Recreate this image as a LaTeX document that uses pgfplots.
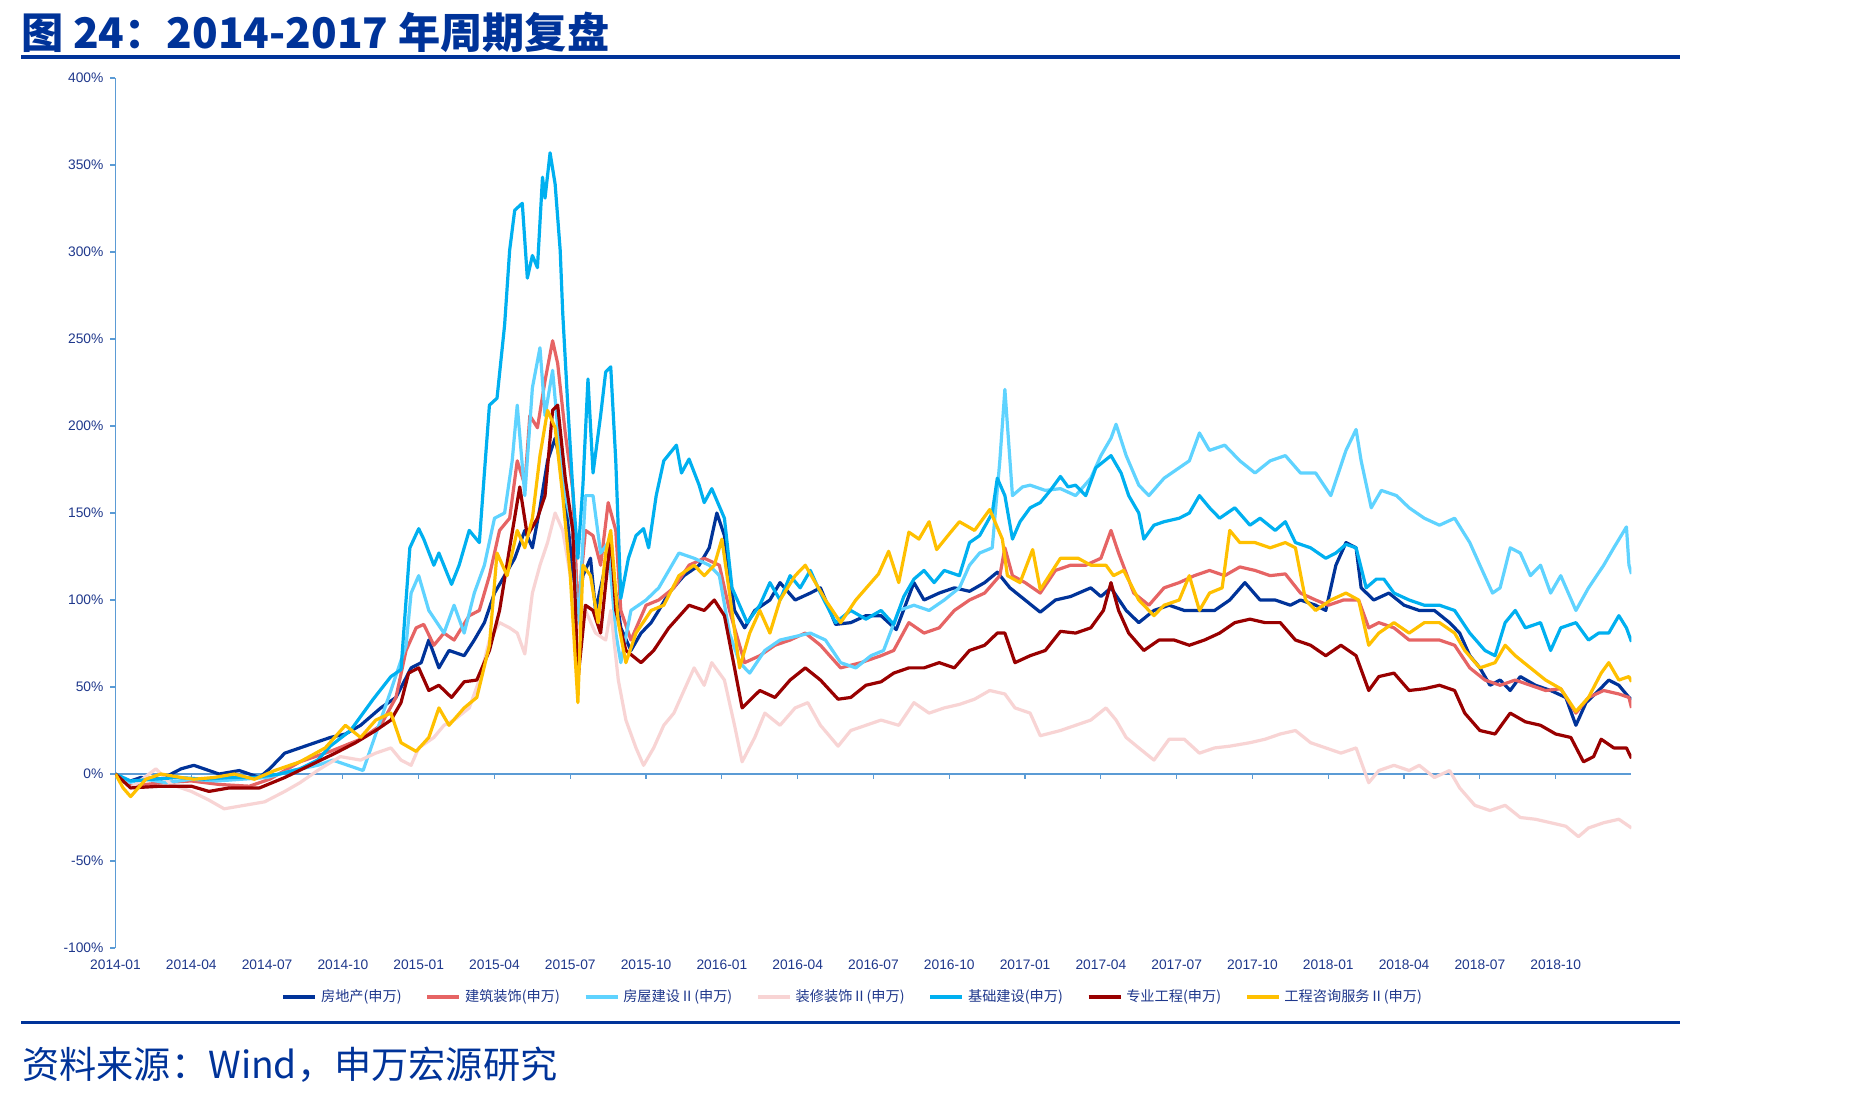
\documentclass[border=0pt]{standalone}
\usepackage{pgfplots}
\pgfplotsset{compat=1.18}
\usepackage{fontspec}
\setmainfont{Liberation Sans}
\newfontfamily\cjk{Noto Sans CJK SC}
\definecolor{titleblue}{RGB}{0,51,153}
\definecolor{tickblue}{RGB}{31,56,140}
\definecolor{axisblue}{RGB}{91,155,213}
\definecolor{cA}{RGB}{0,51,153}
\definecolor{cB}{RGB}{230,100,100}
\definecolor{cC}{RGB}{95,211,255}
\definecolor{cD}{RGB}{248,212,212}
\definecolor{cE}{RGB}{0,176,240}
\definecolor{cF}{RGB}{153,0,0}
\definecolor{cG}{RGB}{255,192,0}
\begin{document}
\begin{tikzpicture}
\path[fill=white] (0pt,0pt) rectangle (924.5pt,-549.5pt);
\node[anchor=base west, inner sep=0pt, text=titleblue, font=\cjk\bfseries\fontsize{21.1}{25}\selectfont] at (10.5pt,-24pt) {图 24：2014-2017 年周期复盘};
\fill[titleblue] (10.5pt,-27.5pt) rectangle (840pt,-29.5pt);
\fill[titleblue] (10.5pt,-510.5pt) rectangle (840pt,-512pt);
\node[anchor=base west, inner sep=0pt, text=titleblue, font=\cjk\fontsize{18.6}{22}\selectfont] at (11pt,-539.3pt) {资料来源：Wind，申万宏源研究};
\begin{axis}[
  scale only axis, width=758pt, height=435pt,
  at={(57.75pt,-474pt)}, anchor=south west,
  xmin=0, xmax=60, ymin=-100, ymax=400,
  axis y line*=left, axis x line*=bottom,
  x axis line style={draw=none},
  y axis line style={draw=axisblue, line width=0.6pt},
  xtick={0,3,...,57},
  xticklabels={2014-01,2014-04,2014-07,2014-10,2015-01,2015-04,2015-07,2015-10,2016-01,2016-04,2016-07,2016-10,2017-01,2017-04,2017-07,2017-10,2018-01,2018-04,2018-07,2018-10},
  xtick style={draw=none},
  ytick={-100,-50,...,400},
  yticklabels={-100\%,-50\%,0\%,50\%,100\%,150\%,200\%,250\%,300\%,350\%,400\%},
  ytick style={draw=axisblue, line width=0.6pt},
  tick align=outside, major tick length=2.5pt,
  ticklabel style={font=\fontsize{6.9}{8}\selectfont, text=tickblue},
  no markers,
  every axis plot/.append style={line width=1.6pt, line join=round},
  legend columns=-1,
  legend style={at={(axis description cs:0.1095,-0.0563)}, anchor=west, draw=none, fill=none, inner sep=0pt,
    font=\cjk\fontsize{7.1}{9}\selectfont, text=tickblue,
    /tikz/every even column/.append style={column sep=10.1pt}},
  legend image code/.code={\draw[#1, line width=1.6pt] (0pt,0pt) -- (16pt,0pt);},
]
\draw[axisblue, line width=0.6pt] (axis cs:0,0) -- (axis cs:60,0);
\pgfplotsinvokeforeach{3,6,...,57}{\draw[axisblue, line width=0.6pt] (axis cs:#1,0) -- ++(0pt,-2.5pt);}
% 房地产
\addplot[cA] coordinates {(0,0)(0.4,-5)(1,-2)(1.8,-3)(2.6,3)(3.1,5)(4.1,0)(4.9,2)(5.7,-2)(6.1,3)(6.7,12)(7.3,15)(7.9,18)(8.5,21)(9.1,23)(9.7,28)(10.5,38)(11.1,44)(11.7,61)(12.1,64)(12.4,77)(12.8,61)(13.2,71)(13.8,68)(14.2,77)(14.6,87)(15,104)(15.4,114)(15.8,124)(16.2,140)(16.5,130)(16.8,153)(17.1,180)(17.4,193)(17.7,173)(18,130)(18.2,81)(18.5,114)(18.8,124)(19,94)(19.4,120)(19.6,124)(20,84)(20.4,71)(20.8,81)(21.2,87)(21.5,94)(21.9,104)(22.5,114)(23.1,120)(23.5,130)(23.8,150)(24.1,137)(24.5,94)(24.9,84)(25.3,94)(25.9,100)(26.3,110)(26.9,100)(27.5,104)(27.9,107)(28.5,86)(29.1,87)(29.7,91)(30.3,91)(30.9,83)(31.6,110)(32,100)(32.6,104)(33.2,107)(33.8,105)(34.4,110)(34.9,116)(35.4,107)(36,100)(36.6,93)(37.2,100)(37.8,102)(38.6,107)(39,102)(39.4,107)(40,94)(40.5,87)(41.1,94)(41.7,97)(42.3,94)(42.9,94)(43.5,94)(44.1,100)(44.7,110)(45.3,100)(45.9,100)(46.5,97)(46.9,100)(47.5,97)(47.9,94)(48.3,120)(48.7,133)(49.1,130)(49.3,107)(49.8,100)(50.4,104)(51,97)(51.6,94)(52.2,94)(52.8,87)(53.2,81)(53.6,68)(54,61)(54.4,51)(54.8,54)(55.2,48)(55.6,56)(56.2,51)(56.8,48)(57.4,44)(57.8,28)(58.2,41)(58.7,48)(59.1,54)(59.5,51)(59.9,44)(60,43)};
\addlegendentry{房地产(申万)}
% 建筑装饰
\addplot[cB] coordinates {(0,0)(0.6,-7)(1.8,-5)(3,-4)(4.1,-6)(5.3,-7)(6.1,-3)(7.3,7)(8.5,13)(9.7,20)(10.5,28)(11.1,44)(11.5,71)(11.9,84)(12.2,86)(12.6,74)(13,81)(13.4,77)(14,91)(14.4,94)(14.8,114)(15.2,140)(15.6,147)(15.9,180)(16.2,166)(16.4,206)(16.7,199)(17,226)(17.3,249)(17.5,236)(17.8,196)(18.1,163)(18.3,94)(18.6,140)(18.9,137)(19.2,120)(19.5,156)(19.8,140)(20,94)(20.4,77)(21,97)(21.5,100)(22.1,107)(22.7,120)(23.3,124)(23.9,120)(24.3,94)(24.9,64)(25.5,68)(26.1,74)(26.7,77)(27.3,81)(27.9,74)(28.7,61)(29.5,64)(30.3,68)(30.8,71)(31.4,87)(32,81)(32.6,84)(33.2,94)(33.8,100)(34.4,104)(35,114)(35.2,130)(35.5,114)(36,110)(36.6,104)(37.2,117)(37.8,120)(38.4,120)(39,124)(39.4,140)(39.7,127)(40.3,104)(40.9,97)(41.5,107)(42.1,110)(42.7,114)(43.3,117)(43.9,114)(44.5,119)(45.1,117)(45.7,114)(46.3,115)(46.9,104)(47.5,100)(48,97)(48.6,100)(49.2,100)(49.6,84)(50,87)(50.6,84)(51.2,77)(51.8,77)(52.4,77)(53,74)(53.6,61)(54.2,54)(54.8,51)(55.4,54)(56,51)(56.6,48)(57.2,49)(57.8,35)(58.3,44)(58.9,48)(59.5,46)(59.9,44)(60,38)};
\addlegendentry{建筑装饰(申万)}
% 房屋建设II
\addplot[cC] coordinates {(0,0)(0.5,-5)(1.2,-3)(2,-5)(3,-3)(4,-4)(5,-3)(6,-2)(7,2)(8,5)(8.6,8)(9.8,2)(10.9,48)(11.5,74)(11.7,104)(12,114)(12.4,94)(13,81)(13.4,97)(13.8,81)(14.2,104)(14.6,120)(15,147)(15.4,150)(15.7,180)(15.9,212)(16.2,160)(16.5,222)(16.8,245)(17,206)(17.3,232)(17.5,199)(17.8,160)(18.1,140)(18.3,81)(18.6,160)(18.9,160)(19.2,127)(19.5,133)(19.8,81)(20,64)(20.4,94)(21,100)(21.5,107)(22.3,127)(22.9,124)(23.5,120)(23.9,114)(24.3,81)(24.7,64)(25.1,58)(25.7,71)(26.3,77)(26.9,79)(27.5,81)(28.1,77)(28.7,64)(29.3,61)(29.9,68)(30.4,71)(31,94)(31.6,97)(32.2,94)(32.8,100)(33.4,107)(33.8,120)(34.2,127)(34.7,130)(35,180)(35.2,221)(35.5,160)(35.9,165)(36.2,166)(36.8,163)(37.4,164)(38,160)(38.6,170)(39,183)(39.4,193)(39.6,201)(40,183)(40.5,166)(40.9,160)(41.5,170)(42.1,176)(42.5,180)(42.9,196)(43.3,186)(43.9,189)(44.5,180)(45.1,173)(45.7,180)(46.3,183)(46.9,173)(47.5,173)(48.1,160)(48.7,186)(49.1,198)(49.3,180)(49.7,153)(50.1,163)(50.7,160)(51.2,153)(51.8,147)(52.4,143)(53,147)(53.6,133)(54,120)(54.5,104)(54.8,107)(55.2,130)(55.6,127)(56,114)(56.4,120)(56.8,104)(57.2,114)(57.8,94)(58.3,107)(58.9,120)(59.3,130)(59.8,142)(59.9,120)(60,115)};
\addlegendentry{房屋建设Ⅱ(申万)}
% 装修装饰II
\addplot[cD] coordinates {(0,0)(0.6,-8)(1.6,3)(2.2,-6)(3,-10)(3.7,-15)(4.3,-20)(5.1,-18)(5.9,-16)(6.7,-10)(7.3,-5)(8.1,3)(8.9,10)(9.7,8)(10.3,12)(10.9,15)(11.3,8)(11.7,5)(12,15)(12.6,21)(13,28)(13.4,31)(14,38)(14.4,54)(14.8,77)(15.2,87)(15.6,84)(15.9,81)(16.2,69)(16.5,104)(16.8,120)(17.1,133)(17.4,150)(17.7,140)(18,114)(18.3,81)(18.6,94)(19,81)(19.4,77)(19.6,94)(19.9,54)(20.2,31)(20.6,15)(20.9,5)(21.3,15)(21.7,28)(22.1,35)(22.5,48)(22.9,61)(23.3,51)(23.6,64)(24.1,54)(24.5,28)(24.8,7)(25.3,21)(25.7,35)(26.3,28)(26.9,38)(27.4,41)(27.9,28)(28.6,16)(29.1,25)(29.7,28)(30.3,31)(31,28)(31.6,41)(32.2,35)(32.8,38)(33.4,40)(34,43)(34.6,48)(35.2,46)(35.6,38)(36.2,35)(36.6,22)(37.4,25)(38,28)(38.6,31)(39.2,38)(39.6,31)(40,21)(40.5,15)(41.1,8)(41.7,20)(42.3,20)(42.9,12)(43.5,15)(44.1,16)(44.9,18)(45.5,20)(46.1,23)(46.7,25)(47.3,18)(47.9,15)(48.5,12)(49.1,15)(49.6,-5)(50,2)(50.6,5)(51.2,2)(51.6,5)(52.2,-2)(52.8,2)(53.2,-8)(53.8,-18)(54.4,-21)(55,-18)(55.6,-25)(56.2,-26)(56.8,-28)(57.4,-30)(57.9,-36)(58.3,-31)(58.9,-28)(59.5,-26)(60,-31)};
\addlegendentry{装修装饰Ⅱ(申万)}
% 基础建设
\addplot[cE] coordinates {(0,0)(0.6,-4)(1.5,-3)(2.5,-2)(3.5,-3)(4.5,-2)(5.5,-2)(6.5,0)(7.3,3)(8,8)(8.5,16)(9.3,25)(10.2,43)(10.9,56)(11.3,60)(11.65,130)(12,141)(12.2,135)(12.6,120)(12.8,127)(13.3,109)(13.6,120)(14,140)(14.4,133)(14.6,173)(14.8,212)(15.1,216)(15.4,258)(15.6,301)(15.8,324)(16.1,328)(16.3,285)(16.5,298)(16.7,291)(16.9,343)(17,331)(17.2,357)(17.4,339)(17.6,301)(17.7,265)(17.9,212)(18.1,163)(18.3,124)(18.5,166)(18.7,227)(18.9,173)(19.2,206)(19.4,231)(19.6,234)(19.8,180)(20,101)(20.3,124)(20.6,137)(20.9,141)(21.1,130)(21.4,160)(21.7,180)(22.2,189)(22.4,173)(22.7,181)(23.1,166)(23.3,156)(23.6,164)(24.1,147)(24.4,107)(25,87)(25.5,97)(25.9,110)(26.3,100)(26.7,114)(27.1,107)(27.5,117)(27.9,104)(28.5,87)(29.1,94)(29.7,89)(30.3,94)(30.8,86)(31.2,102)(31.6,112)(32,117)(32.4,110)(32.8,117)(33.4,114)(33.8,133)(34.2,137)(34.7,150)(34.9,170)(35.2,160)(35.5,135)(35.8,145)(36.2,153)(36.6,156)(37,163)(37.4,171)(37.7,165)(38,166)(38.4,160)(38.8,176)(39.4,183)(39.8,173)(40.1,160)(40.5,150)(40.7,135)(41.1,143)(41.5,145)(42.1,147)(42.5,150)(42.9,160)(43.3,153)(43.7,147)(44.3,153)(44.9,143)(45.3,147)(45.9,140)(46.3,145)(46.7,133)(47.3,130)(47.9,124)(48.3,127)(48.7,132)(49.1,130)(49.5,107)(49.9,112)(50.2,112)(50.6,104)(51.2,100)(51.8,97)(52.4,97)(53,94)(53.6,81)(54.2,71)(54.6,68)(55,87)(55.4,94)(55.8,84)(56.4,87)(56.8,71)(57.2,84)(57.8,87)(58.3,77)(58.7,81)(59.1,81)(59.5,91)(59.8,84)(60,76)};
\addlegendentry{基础建设(申万)}
% 专业工程
\addplot[cF] coordinates {(0,0)(0.6,-8)(1.8,-7)(3,-7)(3.7,-10)(4.5,-8)(5.7,-8)(6.7,-2)(7.7,5)(8.7,12)(9.5,18)(10.3,25)(10.9,31)(11.3,41)(11.6,58)(12,61)(12.4,48)(12.8,51)(13.3,44)(13.8,53)(14.3,54)(14.8,71)(15.2,94)(15.6,130)(16,165)(16.3,137)(16.7,147)(17,160)(17.3,209)(17.5,212)(17.8,170)(18.1,140)(18.3,54)(18.6,97)(18.9,94)(19.2,81)(19.6,137)(19.8,94)(20.2,71)(20.8,64)(21.3,71)(21.9,84)(22.7,97)(23.3,94)(23.7,100)(24.1,91)(24.5,61)(24.8,38)(25.5,48)(26.1,44)(26.7,54)(27.3,61)(27.9,54)(28.6,43)(29.1,44)(29.7,51)(30.3,53)(30.8,58)(31.4,61)(32,61)(32.6,64)(33.2,61)(33.8,71)(34.4,74)(34.9,81)(35.2,81)(35.6,64)(36.2,68)(36.8,71)(37.4,82)(38,81)(38.6,84)(39.1,94)(39.4,110)(39.7,94)(40.1,81)(40.7,71)(41.3,77)(41.9,77)(42.5,74)(43.1,77)(43.7,81)(44.3,87)(44.9,89)(45.5,87)(46.1,87)(46.7,77)(47.3,74)(47.9,68)(48.5,74)(49.1,68)(49.6,48)(50,56)(50.6,58)(51.2,48)(51.8,49)(52.4,51)(53,48)(53.4,35)(54,25)(54.6,23)(55.2,35)(55.8,30)(56.4,28)(57,23)(57.6,21)(58.1,7)(58.5,10)(58.8,20)(59.3,15)(59.8,15)(60,9)};
\addlegendentry{专业工程(申万)}
% 工程咨询服务II
\addplot[cG] coordinates {(0,0)(0.3,-8)(0.6,-13)(1.2,-3)(1.8,0)(2.6,-2)(3.1,-3)(3.9,-2)(4.7,0)(5.5,-3)(6.3,2)(7.3,7)(8.3,15)(9.1,28)(9.7,21)(10.3,31)(10.9,35)(11.3,18)(11.9,13)(12.4,21)(12.8,38)(13.2,28)(13.8,38)(14.3,44)(14.8,74)(15.1,127)(15.5,114)(15.9,140)(16.2,130)(16.5,147)(16.8,183)(17.1,209)(17.4,199)(17.7,160)(18,114)(18.3,41)(18.5,120)(18.8,114)(19.1,87)(19.4,127)(19.6,140)(19.9,87)(20.2,64)(20.6,81)(21.2,94)(21.7,97)(22.3,114)(22.9,120)(23.3,114)(23.7,120)(24,135)(24.3,104)(24.7,61)(25.1,81)(25.5,94)(25.9,81)(26.3,100)(26.9,114)(27.3,120)(27.7,110)(28.1,100)(28.7,87)(29.3,100)(29.9,110)(30.2,115)(30.6,128)(31,110)(31.4,139)(31.8,135)(32.2,145)(32.5,129)(33,138)(33.4,145)(34,140)(34.6,152)(35.1,135)(35.3,114)(35.8,110)(36.3,129)(36.6,106)(37,115)(37.4,124)(38.1,124)(38.6,120)(39.2,120)(39.5,114)(39.9,117)(40.5,100)(41.1,91)(41.5,97)(42.1,100)(42.5,114)(42.9,94)(43.3,104)(43.8,107)(44.1,140)(44.5,133)(45.1,133)(45.7,130)(46.3,133)(46.7,130)(47.1,100)(47.5,94)(48.1,100)(48.7,104)(49.2,100)(49.6,74)(50,81)(50.6,87)(51.2,81)(51.8,87)(52.4,87)(53,81)(53.4,71)(54,61)(54.6,64)(55,74)(55.4,68)(56,61)(56.6,54)(57.2,49)(57.8,36)(58.3,44)(58.8,58)(59.1,64)(59.5,54)(59.9,56)(60,53)};
\addlegendentry{工程咨询服务Ⅱ(申万)}
\end{axis}
\end{tikzpicture}
\end{document}
